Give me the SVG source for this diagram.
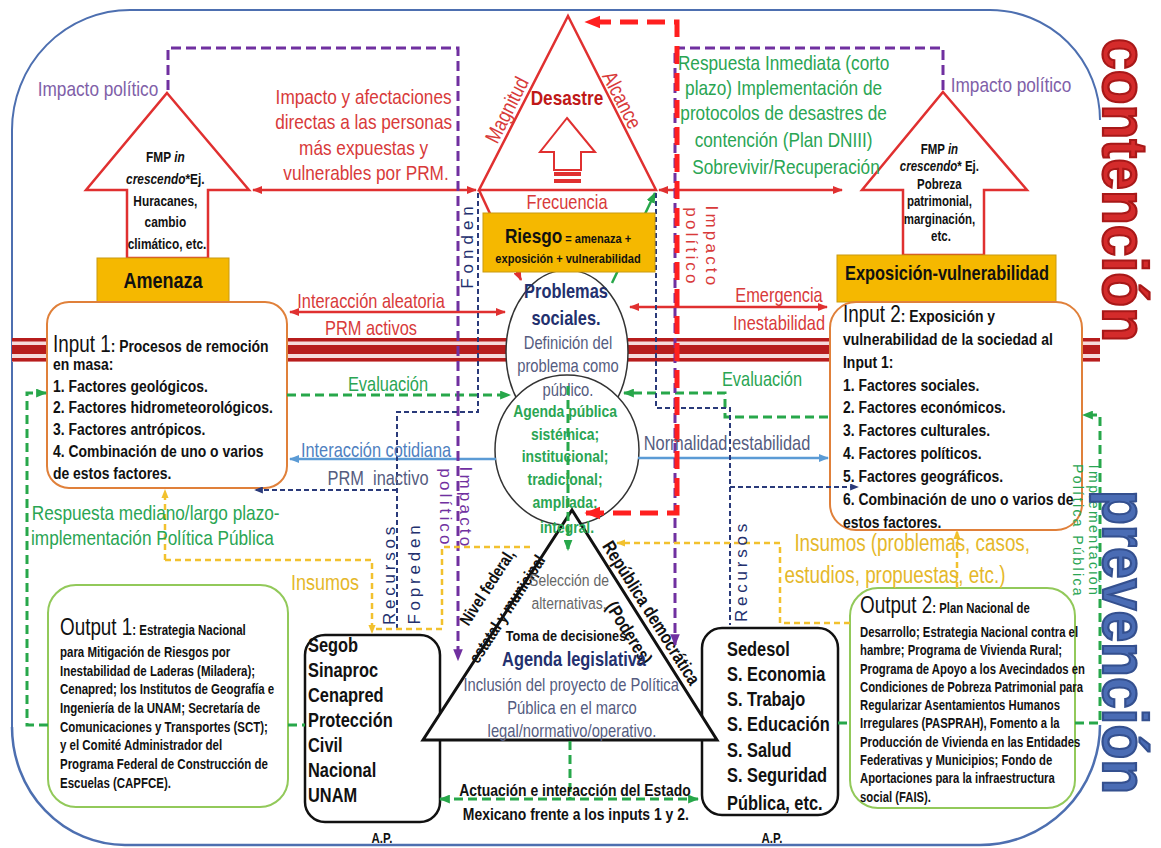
<svg xmlns="http://www.w3.org/2000/svg" width="1161" height="848" viewBox="0 0 1161 848">
<defs>
<style>
text{font-family:'Liberation Sans',Arial,sans-serif}
.b{font-weight:bold}
.i{font-style:italic}
.c{text-anchor:middle}
.red{fill:#d83a3a}
.grn{fill:#2aa553}
.nav{fill:#23306e}
.sl{fill:#555c80}
.blk{fill:#111}
.ylw{fill:#e5b82a}
.pur{fill:#8060a8}
.rs{stroke:#e03030;stroke-width:2.5;fill:none}
.gs{stroke:#27a74a;stroke-width:2.5;fill:none}
.gd{stroke:#27a74a;stroke-width:3;stroke-dasharray:9 5;fill:none}
.pd{stroke:#7030a0;stroke-width:3;stroke-dasharray:10 5;fill:none}
.nd{stroke:#2a3a7a;stroke-width:2;stroke-dasharray:5 3;fill:none}
.yd{stroke:#f2c12e;stroke-width:2.5;stroke-dasharray:6 4;fill:none}
.bl{stroke:#5b9bd5;stroke-width:2.5;fill:none}
.rd{stroke:#ff1f1f;stroke-width:5;stroke-dasharray:18 9;fill:none}
.yb{fill:#f5b800;stroke:#c99a10;stroke-width:1}
</style>
<marker id="mR" viewBox="0 0 10 8" refX="9" refY="4" markerWidth="10" markerHeight="8" markerUnits="userSpaceOnUse" orient="auto-start-reverse"><path d="M0,0L10,4L0,8z" fill="#e03030"/></marker>
<marker id="mG" viewBox="0 0 10 8" refX="9" refY="4" markerWidth="11" markerHeight="9" markerUnits="userSpaceOnUse" orient="auto-start-reverse"><path d="M0,0L10,4L0,8z" fill="#27a74a"/></marker>
<marker id="mB" viewBox="0 0 10 8" refX="9" refY="4" markerWidth="10" markerHeight="8" markerUnits="userSpaceOnUse" orient="auto-start-reverse"><path d="M0,0L10,4L0,8z" fill="#5b9bd5"/></marker>
<marker id="mN" viewBox="0 0 10 8" refX="9" refY="4" markerWidth="9" markerHeight="7" markerUnits="userSpaceOnUse" orient="auto-start-reverse"><path d="M0,0L10,4L0,8z" fill="#2a3a7a"/></marker>
<marker id="mP" viewBox="0 0 10 8" refX="9" refY="4" markerWidth="12" markerHeight="10" markerUnits="userSpaceOnUse" orient="auto-start-reverse"><path d="M0,0L10,4L0,8z" fill="#7030a0"/></marker>
<marker id="mY" viewBox="0 0 10 8" refX="9" refY="4" markerWidth="9" markerHeight="8" markerUnits="userSpaceOnUse" orient="auto-start-reverse"><path d="M0,0L10,4L0,8z" fill="#f2c12e"/></marker>
<marker id="mRD" viewBox="0 0 10 8" refX="9" refY="4" markerWidth="16" markerHeight="15" markerUnits="userSpaceOnUse" orient="auto-start-reverse"><path d="M0,0L10,4L0,8z" fill="#ff1f1f"/></marker>
</defs>
<rect width="1161" height="848" fill="#fff"/>

<g id="frame" fill="none" stroke="#4d6fb0" stroke-width="2">
<path d="M12,727 V130 A118,120 0 0 1 130,10 H990 A110,110 0 0 1 1100,120"/>
<path d="M1100,725 A120,120 0 0 1 980,845 H125 A113,118 0 0 1 12,727" stroke-width="2.5"/>
</g>

<g id="bars">
<rect x="12" y="338" width="1088" height="24" fill="#f6dada"/>
<rect x="12" y="338" width="1088" height="3.5" fill="#b71c1c"/>
<rect x="12" y="345" width="1088" height="9" fill="#b71c1c"/>
<rect x="12" y="358" width="1088" height="3.5" fill="#b71c1c"/>
</g>

<g id="desastre">
<path d="M568,16 L656,190 L479,190 Z" fill="#fff" stroke="#e03030" stroke-width="2.5"/>
<path d="M567,118 L595,152 L581,152 L581,170 L554,170 L554,152 L540,152 Z" fill="#fff" stroke="#e03030" stroke-width="2"/>
<rect x="554" y="172" width="27" height="4" fill="#e03030"/>
<rect x="554" y="179" width="27" height="4" fill="#e03030"/>
<text class="b c" font-size="21" fill="#c01818" transform="translate(567,105) scale(.82,1)">Desastre</text>
<text class="c red" font-size="21" transform="translate(507,110) rotate(-63) scale(.82,1)" dy="7">Magnitud</text>
<text class="c red" font-size="21" transform="translate(622,100) rotate(63) scale(.82,1)" dy="7">Alcance</text>
<text class="c red" font-size="20" transform="translate(567,209) scale(.82,1)">Frecuencia</text>
</g>

<g id="amenaza-fmp">
<path d="M167,93 L249,190 L208,190 L208,258 L127,258 L127,190 L86,190 Z" fill="#fff" stroke="#e03030" stroke-width="2.5"/>
<text class="b c blk" font-size="14.5" transform="translate(167,0) scale(.82,1)">
<tspan x="0" y="162">FMP <tspan class="i">in</tspan></tspan>
<tspan x="0" y="184"><tspan class="i">crescendo</tspan>*Ej.</tspan>
<tspan x="0" y="206">Huracanes,</tspan>
<tspan x="0" y="227">cambio</tspan>
<tspan x="0" y="249">climático, etc.</tspan>
</text>
</g>

<g id="amenaza">
<rect class="yb" x="97" y="258" width="132" height="44"/>
<text class="b c blk" font-size="22" transform="translate(163,288) scale(.82,1)">Amenaza</text>
</g>

<g id="exposicion-fmp">
<path d="M943,92 L1027,190 L984,190 L984,255 L903,255 L903,190 L862,190 Z" fill="#fff" stroke="#e03030" stroke-width="2.5"/>
<text class="b c blk" font-size="14" transform="translate(941,0) scale(.82,1)">
<tspan x="0" y="154">FMP <tspan class="i">in</tspan></tspan>
<tspan x="0" y="171.5"><tspan class="i">crescendo</tspan>* Ej.</tspan>
<tspan x="0" y="189">Pobreza</tspan>
<tspan x="0" y="206.5">patrimonial,</tspan>
<tspan x="0" y="224">marginación,</tspan>
<tspan x="0" y="241.5">etc.</tspan>
</text>
</g>

<g id="exposicion">
<rect class="yb" x="837" y="255" width="219" height="47"/>
<text class="b c blk" font-size="20" transform="translate(947,280) scale(.82,1)">Exposición-vulnerabilidad</text>
</g>

<g id="input1">
<rect x="47" y="302" width="240" height="186" rx="22" fill="#fff" stroke="#e0803a" stroke-width="2"/>
<text class="b blk" font-size="17" transform="translate(53,0) scale(.82,1)">
<tspan x="0" y="352"><tspan font-size="23" font-weight="normal">Input 1</tspan>: Procesos de remoción</tspan>
<tspan x="0" y="370">en masa:</tspan>
<tspan x="0" y="392">1. Factores geológicos.</tspan>
<tspan x="0" y="413">2. Factores hidrometeorológicos.</tspan>
<tspan x="0" y="435">3. Factores antrópicos.</tspan>
<tspan x="0" y="457">4. Combinación de uno o varios</tspan>
<tspan x="0" y="479">de estos factores.</tspan>
</text>
</g>

<g id="input2">
<rect x="830" y="302" width="252" height="228" rx="26" fill="#fff" stroke="#e0803a" stroke-width="2"/>
<text class="b blk" font-size="17" transform="translate(843,0) scale(.82,1)">
<tspan x="0" y="322"><tspan font-size="23" font-weight="normal">Input 2</tspan>: Exposición y</tspan>
<tspan x="0" y="345">vulnerabilidad de la sociedad al</tspan>
<tspan x="0" y="368">Input 1:</tspan>
<tspan x="0" y="391">1. Factores sociales.</tspan>
<tspan x="0" y="413">2. Factores económicos.</tspan>
<tspan x="0" y="436">3. Factores culturales.</tspan>
<tspan x="0" y="459">4. Factores políticos.</tspan>
<tspan x="0" y="482">5. Factores geográficos.</tspan>
<tspan x="0" y="505">6. Combinación de uno o varios de</tspan>
<tspan x="0" y="528">estos factores.</tspan>
</text>
</g>

<g id="problemas">
<ellipse cx="567" cy="352" rx="61" ry="82" fill="#fff" stroke="#333" stroke-width="1.5"/>
</g>

<g id="agenda">
<ellipse cx="567" cy="450" rx="72" ry="75" fill="#fff" stroke="#333" stroke-width="1.5"/>
</g>

<g id="segob">
<rect x="305" y="635" width="135" height="187" rx="20" fill="#fff" stroke="#111" stroke-width="2.5"/>
<text class="b blk" font-size="20" transform="translate(308,0) scale(.82,1)">
<tspan x="0" y="652">Segob</tspan>
<tspan x="0" y="677">Sinaproc</tspan>
<tspan x="0" y="702">Cenapred</tspan>
<tspan x="0" y="727">Protección</tspan>
<tspan x="0" y="752">Civil</tspan>
<tspan x="0" y="777">Nacional</tspan>
<tspan x="0" y="802">UNAM</tspan>
</text>
<text class="b c blk" font-size="14" transform="translate(382,843) scale(.82,1)">A.P.</text>
</g>

<g id="sedesol">
<rect x="702" y="628" width="136" height="187" rx="20" fill="#fff" stroke="#111" stroke-width="2.5"/>
<text class="b blk" font-size="20" transform="translate(727,0) scale(.82,1)">
<tspan x="0" y="656">Sedesol</tspan>
<tspan x="0" y="681">S. Economia</tspan>
<tspan x="0" y="706">S. Trabajo</tspan>
<tspan x="0" y="731">S. Educación</tspan>
<tspan x="0" y="757">S. Salud</tspan>
<tspan x="0" y="782">S. Seguridad</tspan>
<tspan x="0" y="810">Pública, etc.</tspan>
</text>
<text class="b c blk" font-size="14" transform="translate(772,843) scale(.82,1)">A.P.</text>
</g>

<g id="triangulo">
<path d="M572,510 L717,740 L423,740 Z" fill="#fff" stroke="#111" stroke-width="3"/>
<text class="b c blk" font-size="17" transform="translate(487,587) rotate(-57) scale(.82,1)" dy="6">Nivel federal,</text>
<text class="b c blk" font-size="17" transform="translate(507,609) rotate(-57) scale(.82,1)" dy="6">estatal y municipal</text>
<text class="b c blk" font-size="18.5" transform="translate(651,613) rotate(57.8) scale(.82,1)" dy="6">República democrática</text>
<text class="b c blk" font-size="18.5" transform="translate(629,633) rotate(57.8) scale(.82,1)" dy="6">(Poderes)</text>
<text class="c" font-size="17" fill="#666" transform="translate(569,0) scale(.82,1)"><tspan x="0" y="586">Selección de</tspan><tspan x="0" y="609">alternativas.</tspan></text>
<text class="b c blk" font-size="15.5" transform="translate(566,641) scale(.82,1)">Toma de decisiones</text>
<text class="b c nav" font-size="20" transform="translate(574,666) scale(.82,1)">Agenda legislativa</text>
<text class="c sl" font-size="18" transform="translate(572,0) scale(.82,1)"><tspan x="-1" y="691">Inclusión del proyecto de Política</tspan><tspan x="0" y="714">Pública en el marco</tspan><tspan x="0" y="737">legal/normativo/operativo.</tspan></text>
</g>

<g id="problemas-texto">
<text class="b c nav" font-size="20" transform="translate(566,0) scale(.82,1)"><tspan x="0" y="298">Problemas</tspan><tspan x="0" y="325">sociales.</tspan></text>
<text class="c sl" font-size="18" transform="translate(568,0) scale(.82,1)"><tspan x="0" y="349">Definición del</tspan><tspan x="0" y="372">problema como</tspan><tspan x="0" y="396">público.</tspan></text>
</g>

<g id="agenda-texto">
<text class="b c grn" font-size="17" transform="translate(567,0) scale(.82,1)">
<tspan x="0" y="417">Agenda pública</tspan>
<tspan x="0" y="440">sistémica;</tspan>
<tspan x="0" y="462">institucional;</tspan>
<tspan x="0" y="485">tradicional;</tspan>
<tspan x="0" y="508">ampliada;</tspan>
<tspan x="0" y="533">integral.</tspan>
</text>
</g>

<g id="output1">
<rect x="48" y="585" width="240" height="222" rx="28" fill="#fff" stroke="#92c95a" stroke-width="2"/>
<text class="b blk" font-size="14" transform="translate(60,0) scale(.82,1)">
<tspan x="0" y="635"><tspan font-size="23" font-weight="normal">Output 1</tspan>: Estrategia Nacional</tspan>
<tspan x="0" y="657">para Mitigación de Riesgos por</tspan>
<tspan x="0" y="675.7">Inestabilidad de Laderas (Miladera);</tspan>
<tspan x="0" y="694.4">Cenapred; los Institutos de Geografía e</tspan>
<tspan x="0" y="713.1">Ingeniería de la UNAM; Secretaría de</tspan>
<tspan x="0" y="731.8">Comunicaciones y Transportes (SCT);</tspan>
<tspan x="0" y="750.5">y el Comité Administrador del</tspan>
<tspan x="0" y="769.2">Programa Federal de Construcción de</tspan>
<tspan x="0" y="787.9">Escuelas (CAPFCE).</tspan>
</text>
</g>

<g id="output2">
<rect x="850" y="588" width="225" height="220" rx="28" fill="#fff" stroke="#92c95a" stroke-width="2"/>
<text class="b blk" font-size="13.8" transform="translate(860,0) scale(.82,1)">
<tspan x="0" y="613"><tspan font-size="23" font-weight="normal">Output 2</tspan>: Plan Nacional de</tspan>
<tspan x="0" y="637">Desarrollo; Estrategia Nacional contra el</tspan>
<tspan x="0" y="655.3">hambre; Programa de Vivienda Rural;</tspan>
<tspan x="0" y="673.6">Programa de Apoyo a los Avecindados en</tspan>
<tspan x="0" y="691.9">Condiciones de Pobreza Patrimonial para</tspan>
<tspan x="0" y="710.2">Regularizar Asentamientos Humanos</tspan>
<tspan x="0" y="728.5">Irregulares (PASPRAH), Fomento a la</tspan>
<tspan x="0" y="746.8">Producción de Vivienda en las Entidades</tspan>
<tspan x="0" y="765.1">Federativas y Municipios; Fondo de</tspan>
<tspan x="0" y="783.4">Aportaciones para la infraestructura</tspan>
<tspan x="0" y="801.7">social (FAIS).</tspan>
</text>
</g>

<g id="connectors">
<path class="rs" d="M253,190 H476" marker-start="url(#mR)" marker-end="url(#mR)"/>
<path class="rs" d="M659,190 H842" marker-start="url(#mR)" marker-end="url(#mR)"/>
<path class="rs" d="M479,190 L521,280" marker-end="url(#mR)"/>
<path class="gs" d="M612,283 L655,193" marker-end="url(#mG)"/>
<path class="rs" d="M290,312 H505" marker-start="url(#mR)" marker-end="url(#mR)"/>
<path class="rs" d="M630,307 H827" marker-start="url(#mR)" marker-end="url(#mR)"/>
<path class="bl" d="M496,459 H290" marker-end="url(#mB)"/>
<path class="bl" d="M638,458 H828" marker-end="url(#mB)"/>
<path class="gd" d="M287,395 H510" marker-end="url(#mG)"/>
<path class="gd" d="M828,417 H725 V393 H624" marker-end="url(#mG)"/>
<path class="gd" d="M48,725 H27 V393 H46" marker-end="url(#mG)"/>
<path class="gd" d="M288,725 H305"/>
<path class="gd" d="M838,723 H850"/>
<path class="gd" d="M1075,723 H1100 V415 H1083" marker-end="url(#mG)"/>
<path class="gd" d="M568,386 V550" marker-end="url(#mG)"/>
<path class="gd" d="M570,741 V799"/>
<path class="gd" d="M440,799 H698" marker-start="url(#mG)" marker-end="url(#mG)"/>
<path class="pd" d="M168,90 V48 H458 V660" marker-end="url(#mP)"/>
<path class="pd" d="M943,90 V48 H675 V645" marker-end="url(#mP)"/>
<path class="nd" d="M478,193 V412 H397 V632"/>
<path class="nd" d="M397,490 H255" marker-end="url(#mN)"/>
<path class="nd" d="M656,193 V408 H730 V625"/>
<path class="nd" d="M730,487 H858" marker-end="url(#mN)"/>
<path class="yd" d="M165,560 V490" marker-end="url(#mY)"/>
<path class="yd" d="M165,560 H372 V633" marker-end="url(#mY)"/>
<path class="yd" d="M530,547 H442 V629 H374"/>
<path class="yd" d="M850,623 H780 V543 H617" marker-end="url(#mY)"/>
<path class="yd" d="M957,588 V531" marker-end="url(#mY)"/>
<path class="rd" d="M586,513 H677 V22 H586" marker-start="url(#mRD)" marker-end="url(#mRD)"/>
</g>

<g id="riesgo">
<rect class="yb" x="483" y="213" width="172" height="59" stroke="#808080"/>
<text class="b c blk" transform="translate(568,243) scale(.82,1)"><tspan font-size="21">Riesgo</tspan><tspan font-size="13.5"> = amenaza +</tspan></text>
<text class="b c blk" font-size="13.5" transform="translate(568,263) scale(.82,1)">exposición + vulnerabilidad</text>
</g>

<g id="labels">
<text class="c pur" font-size="21" transform="translate(98,96) scale(.82,1)">Impacto político</text>
<text class="c pur" font-size="21" transform="translate(1011,92) scale(.82,1)">Impacto político</text>
<text class="c red" font-size="21" transform="translate(366,0) scale(.82,1)">
<tspan x="0" y="104">Impacto y afectaciones</tspan>
<tspan x="0" y="129.5">directas a las personas</tspan>
<tspan x="0" y="155">más expuestas y</tspan>
<tspan x="0" y="180.5">vulnerables por PRM.</tspan>
</text>
<text class="c grn" font-size="21" transform="translate(786,0) scale(.82,1)">
<tspan x="0" y="70">Respuesta Inmediata (corto</tspan>
<tspan x="0" y="95">plazo) Implementación de</tspan>
<tspan x="0" y="120">protocolos de desastres de</tspan>
<tspan x="0" y="147">contención (Plan DNIII)</tspan>
<tspan x="0" y="174">Sobrevivir/Recuperación</tspan>
</text>
<text class="c red" font-size="20" transform="translate(371,308) scale(.82,1)">Interacción aleatoria</text>
<text class="c red" font-size="20" transform="translate(371,335) scale(.82,1)">PRM activos</text>
<text class="c red" font-size="20" transform="translate(779,302) scale(.82,1)">Emergencia</text>
<text class="c red" font-size="20" transform="translate(779,330) scale(.82,1)">Inestabilidad</text>
<text class="c grn" font-size="20" transform="translate(388,391) scale(.82,1)">Evaluación</text>
<text class="c grn" font-size="20" transform="translate(762,386) scale(.82,1)">Evaluación</text>
<text class="c" font-size="20" fill="#4f7fc0" transform="translate(376,457) scale(.82,1)">Interacción cotidiana</text>
<text class="c sl" font-size="20" transform="translate(378,485) scale(.82,1)" xml:space="preserve">PRM  inactivo</text>
<text class="c sl" font-size="20" transform="translate(727,450) scale(.82,1)">Normalidad estabilidad</text>
<text class="grn" font-size="21" transform="translate(31,0) scale(.82,1)"><tspan x="1" y="520">Respuesta mediano/largo plazo-</tspan><tspan x="0" y="545">implementación Política Pública</tspan></text>
<text class="c ylw" font-size="22" transform="translate(325,590) scale(.82,1)">Insumos</text>
<text class="c ylw" font-size="23" transform="translate(904,0) scale(.82,1)"><tspan x="10" y="551">Insumos (problemas, casos,</tspan><tspan x="-11" y="583">estudios, propuestas, etc.)</tspan></text>
<text class="c nav" font-size="17" letter-spacing="5" transform="translate(473,245) rotate(-90)">Fonden</text>
<text class="c nav" font-size="17" letter-spacing="3.8" transform="translate(395,574) rotate(-90)">Recursos</text>
<text class="c nav" font-size="17" letter-spacing="3.8" transform="translate(420,573) rotate(-90)">Fopreden</text>
<text class="c nav" font-size="17" letter-spacing="3.8" transform="translate(747,571) rotate(-90)">Recursos</text>
<text class="c" font-size="17" letter-spacing="3.2" fill="#7030a0" transform="translate(460,508) rotate(90)"><tspan x="0" y="0">Impacto</tspan><tspan x="0" y="20">político</tspan></text>
<text class="c red" font-size="17" letter-spacing="3.2" transform="translate(706,247) rotate(90)"><tspan x="0" y="0">Impacto</tspan><tspan x="0" y="20">político</tspan></text>
<text class="c grn" font-size="14" letter-spacing="2.4" transform="translate(1089,531) rotate(90)"><tspan x="0" y="0">Implementación</tspan><tspan x="0" y="16">Política Pública</tspan></text>
<text class="b c blk" font-size="17" transform="translate(575,0) scale(.82,1)"><tspan x="0" y="796">Actuación e interacción del Estado</tspan><tspan x="1" y="820">Mexicano frente a los inputs 1 y 2.</tspan></text>
</g>

<g id="side">
<text class="b" font-size="57" fill="#d42b2b" stroke="#a81818" stroke-width="2" transform="translate(1103,38) rotate(90) scale(1,1.1)">contención</text>
<text class="b" font-size="57" fill="#4a6cb4" stroke="#34508f" stroke-width="2" transform="translate(1103,490) rotate(90) scale(1,1.1)">prevención</text>
</g>
</svg>
